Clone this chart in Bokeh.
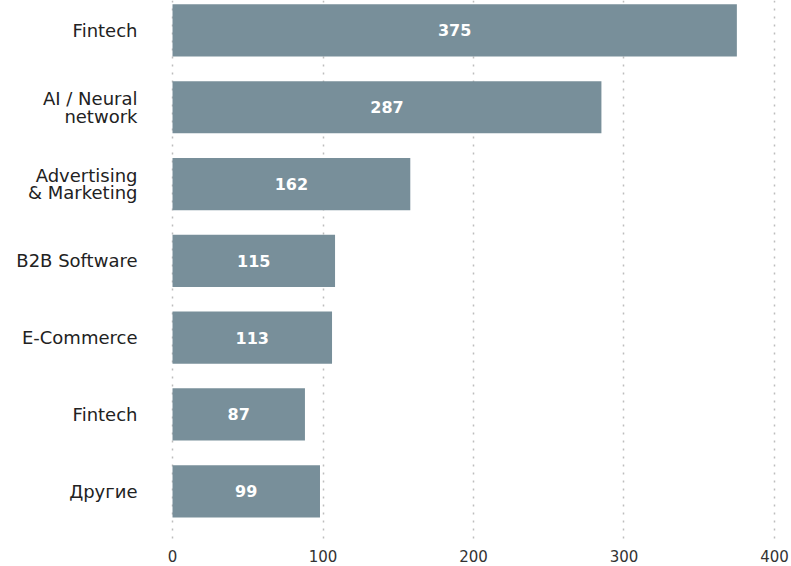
from bokeh.plotting import figure
from bokeh.models import Range1d, FixedTicker, ColumnDataSource
from bokeh.core.properties import value
from bokeh.embed import file_html
from bokeh.resources import INLINE

categories = ["Fintech", "AI / Neural\nnetwork", "Advertising\n& Marketing",
              "B2B Software", "E-Commerce", "Fintech", "Другие"]
bar_values = [375, 285, 158, 108, 106, 88, 98]
label_values = [375, 287, 162, 115, 113, 87, 99]
x_ticks = [0, 100, 200, 300, 400]

FONT = "DejaVu Sans"
BAR = "#788f9a"

pos = list(range(len(categories)))
src = ColumnDataSource(dict(
    y=pos,
    v=bar_values,
    mid=[v / 2 for v in bar_values],
    lab=[str(v) for v in label_values],
))

p = figure(width=791, height=566, output_backend="svg", toolbar_location=None,
           x_range=Range1d(-2, 402), y_range=Range1d(6.68, -0.39),
           min_border_left=169, min_border_right=14, min_border_top=0,
           min_border_bottom=23)
p.outline_line_color = None
p.background_fill_color = "white"

p.hbar(y="y", left=0, right="v", height=0.68, source=src,
       fill_color=BAR, line_color=None)
p.text(x="mid", y="y", text="lab", source=src, text_align="center",
       text_baseline="middle", text_color="white", text_font=value(FONT),
       text_font_size="16px", text_font_style="bold")

p.xgrid.ticker = FixedTicker(ticks=x_ticks)
p.xgrid.grid_line_color = "#bdbdbd"
p.xgrid.grid_line_dash = "2 6"
p.xgrid.grid_line_width = 1.5
p.ygrid.grid_line_color = None

p.xaxis.ticker = FixedTicker(ticks=x_ticks)
p.xaxis.axis_line_color = None
p.xaxis.major_tick_line_color = None
p.xaxis.minor_tick_line_color = None
p.xaxis.major_tick_out = 0
p.xaxis.major_tick_in = 0
p.xaxis.major_label_standoff = 6
p.xaxis.major_label_text_font = FONT
p.xaxis.major_label_text_font_size = "15px"
p.xaxis.major_label_text_color = "#333333"

p.yaxis.ticker = FixedTicker(ticks=pos)
p.yaxis.major_label_overrides = {i: c for i, c in zip(pos, categories)}
p.yaxis.axis_line_color = None
p.yaxis.major_tick_line_color = None
p.yaxis.minor_tick_line_color = None
p.yaxis.major_tick_out = 0
p.yaxis.major_tick_in = 0
p.yaxis.major_label_standoff = 32
p.yaxis.major_label_text_font = FONT
p.yaxis.major_label_text_font_size = "18px"
p.yaxis.major_label_text_line_height = 0.85
p.yaxis.major_label_text_color = "#222222"

open("out.html", "w").write(file_html(p, INLINE))
